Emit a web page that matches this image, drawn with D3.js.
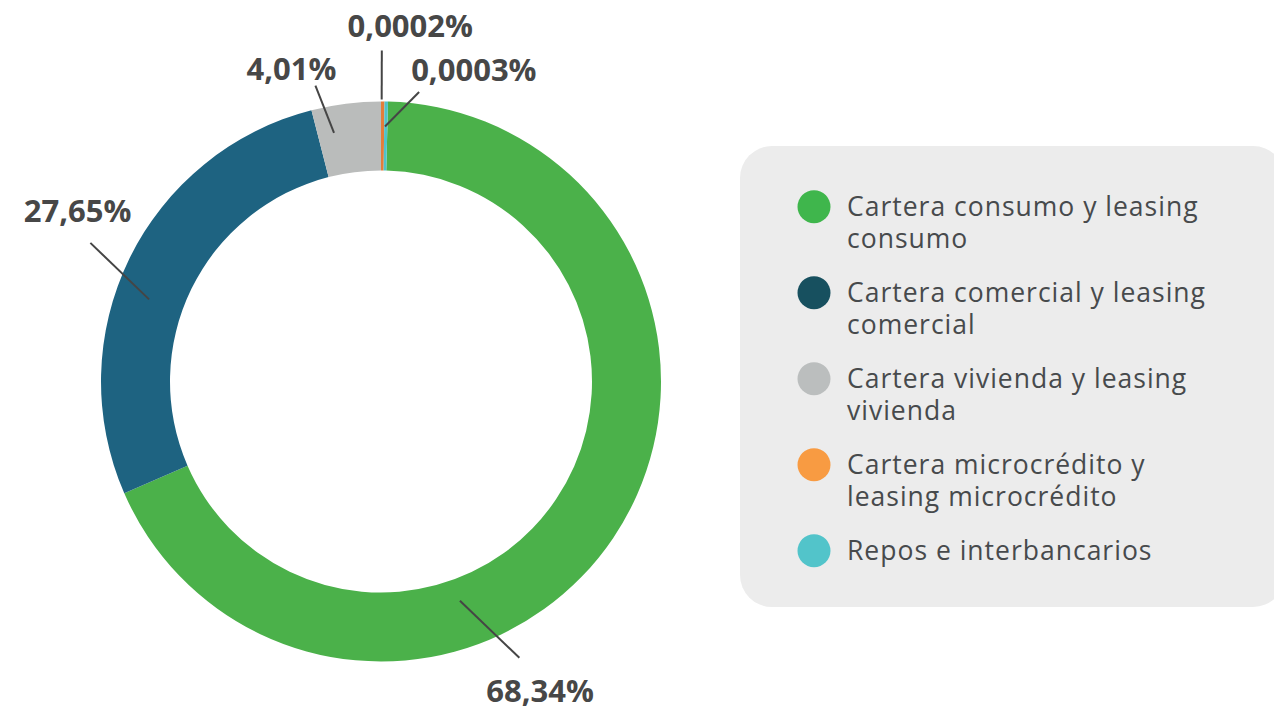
<!DOCTYPE html>
<html>
<head>
<meta charset="utf-8">
<script src="https://cdn.jsdelivr.net/npm/d3@7"></script>
<style>
  html, body { margin: 0; padding: 0; background: #fff; }
  svg { display: block; }
</style>
</head>
<body>
<svg id="chart" width="1274" height="707"></svg>
<script>
// Data
const categories = [
    "Cartera consumo y leasing\nconsumo",
    "Cartera comercial y leasing\ncomercial",
    "Cartera vivienda y leasing\nvivienda",
    "Cartera microcrédito y\nleasing microcrédito",
    "Repos e interbancarios"
];
const shares = [68.34, 27.65, 4.01, 0.0002, 0.0003];

// Colours
const ringColors = ["#4bb14a", "#1e6381", "#babcbb", "#e47d3a", "#4fc2c9"];
const legendColors = ["#3fb64c", "#17505f", "#bbbebe", "#f89b42", "#52c4ca"];

// Where each label sits (degrees clockwise from top, radius in px)
const labelLayout = [
    {a1: 160.2, r1: 233, a2: 153.4, r2: 309, ta: 152.8, tr: 348},
    {a1: 289.5, r1: 246, a2: 295.5, r2: 322, ta: 299.3, tr: 348},
    {a1: 349.3, r1: 253, a2: 347.5, r2: 303, ta: 344.0, tr: 325},
    {a1: 0.14, r1: 282, a2: 0.14, r2: 331, ta: 4.7, tr: 357},
    {a1: 0.9, r1: 255, a2: 7.5, r2: 292, ta: 16.6, tr: 325}
];

const cx = 381, cy = 381.5;
const outerR = 280, innerR = 211;
const minShare = 0.2; // tiny slices still get a sliver

const svg = d3.select('#chart');

const locale = d3.formatLocale({decimal: ",", thousands: ".", grouping: [3], currency: ["", ""]});
const fmtPct = v => (v < 0.01 ? locale.format(".4f")(v) : locale.format(".2f")(v)) + "%";

const drawn = shares.map(v => Math.max(v, minShare));
const total = d3.sum(drawn);
// rotate so the tiny slices begin at twelve o'clock
const offset = (drawn[3] + drawn[4]) / total * 2 * Math.PI;

const pie = d3.pie()
    .sort(null)
    .value((d, i) => drawn[i])
    .startAngle(offset)
    .endAngle(offset + 2 * Math.PI);

const arc = d3.arc().innerRadius(innerR).outerRadius(outerR);

const g = svg.append('g').attr('transform', `translate(${cx},${cy})`);

g.selectAll('path')
    .data(pie(shares))
    .enter()
    .append('path')
        .attr('d', arc)
        .attr('fill', (d, i) => ringColors[i]);

const polar = (deg, r) => {
    const a = deg * Math.PI / 180;
    return [r * Math.sin(a), -r * Math.cos(a)];
};

const labels = g.selectAll('.lbl')
    .data(shares)
    .enter()
    .append('g')
        .attr('class', 'lbl');

labels.append('line')
    .attr('x1', (d, i) => polar(labelLayout[i].a1, labelLayout[i].r1)[0])
    .attr('y1', (d, i) => polar(labelLayout[i].a1, labelLayout[i].r1)[1])
    .attr('x2', (d, i) => polar(labelLayout[i].a2, labelLayout[i].r2)[0])
    .attr('y2', (d, i) => polar(labelLayout[i].a2, labelLayout[i].r2)[1])
    .attr('stroke', '#454545')
    .attr('stroke-width', 2);

labels.append('text')
    .attr('x', (d, i) => polar(labelLayout[i].ta, labelLayout[i].tr)[0])
    .attr('y', (d, i) => polar(labelLayout[i].ta, labelLayout[i].tr)[1])
    .attr('text-anchor', 'middle')
    .attr('dy', '0.36em')
    .attr('font-family', '"Open Sans", sans-serif')
    .attr('font-weight', 700)
    .attr('font-size', 31)
    .attr('fill', '#474747')
    .text(d => fmtPct(d));

// Legend
const legend = svg.append('g');

legend.append('rect')
    .attr('x', 740)
    .attr('y', 146)
    .attr('width', 545)
    .attr('height', 461)
    .attr('rx', 32)
    .attr('fill', '#ececec');

const lineH = 32, gap = 22;
let yPos = 206.7;
const itemY = categories.map(c => {
    const y = yPos;
    yPos += c.split('\n').length * lineH + gap;
    return y;
});

const items = legend.selectAll('.item')
    .data(categories)
    .enter()
    .append('g')
        .attr('class', 'item')
        .attr('transform', (d, i) => `translate(814,${itemY[i]})`);

items.append('circle')
    .attr('r', 16.5)
    .attr('fill', (d, i) => legendColors[i]);

items.append('text')
    .attr('font-family', '"Open Sans", sans-serif')
    .attr('font-size', 26.5)
    .attr('letter-spacing', 1)
    .attr('fill', '#474a4c')
    .selectAll('tspan')
    .data(d => d.split('\n'))
    .enter()
    .append('tspan')
        .attr('x', 33)
        .attr('y', (d, j) => j * lineH)
        .attr('dy', '0.36em')
        .text(d => d);
</script>
</body>
</html>
